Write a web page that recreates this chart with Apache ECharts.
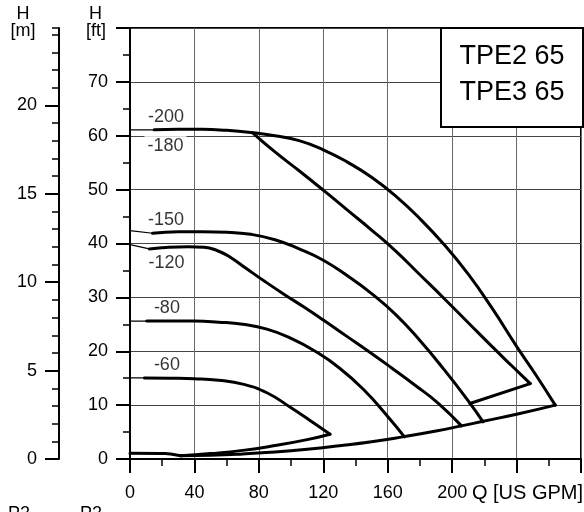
<!DOCTYPE html>
<html><head><meta charset="utf-8">
<script src="https://cdn.jsdelivr.net/npm/echarts@6/dist/echarts.min.js"></script>
<style>html,body{margin:0;padding:0;background:#fff}#c{width:584px;height:512px}</style>
</head><body><div id="c"></div>
<script>
// ---- data (Q in US GPM, H in ft) ----
const xLabelMax = 200;
const ftLabelMax = 70;
const mMajorTicks = [0, 5, 10, 15, 20];
const c200Thin = [[0, 61.1], [15, 61.1]];
const c200 = [[15, 61.1], [30, 61.2], [45, 61.2], [60, 61.0], [75, 60.6], [90, 60.0], [105, 59.1], [120, 57.4], [135, 55.1], [150, 52.3], [165, 48.8], [180, 44.6], [195, 39.8], [210, 34.3], [225, 27.9], [240, 20.9], [252, 15.6], [264, 10.0]];
const c180 = [[76, 60.6], [90, 57.0], [105, 53.5], [120, 49.9], [135, 46.2], [150, 42.5], [165, 38.6], [180, 34.2], [195, 29.8], [210, 25.3], [225, 20.8], [237, 17.3], [248.5, 14.0]];
const c180Join = [[248.5, 14.0], [211, 10.3]];
const c150Thin = [[0, 42.4], [14, 41.9]];
const c150 = [[14, 41.9], [30, 42.2], [45, 42.2], [60, 42.1], [75, 41.7], [90, 40.7], [105, 39.0], [120, 36.9], [135, 34.0], [150, 30.7], [165, 26.8], [180, 22.0], [195, 16.6], [210, 10.8], [219.2, 6.9]];
const c120Thin = [[0, 39.8], [12, 39.0]];
const c120 = [[12, 39.0], [24, 39.3], [36, 39.4], [46, 39.3], [54, 38.7], [62, 37.5], [72, 35.4], [84, 32.9], [96, 30.5], [108, 28.2], [120, 25.8], [134, 22.9], [148, 20.0], [162, 17.0], [177, 13.7], [191.6, 10.3], [205.8, 6.15]];
const c80Thin = [[0, 25.6], [10.4, 25.6]];
const c80 = [[10.4, 25.6], [25, 25.6], [40, 25.6], [55, 25.4], [70, 25.0], [85, 24.1], [100, 22.4], [115, 20.0], [130, 16.9], [145, 12.9], [160, 7.9], [170.4, 4.1]];
const c60Thin = [[0, 15.05], [9, 15.05]];
const c60 = [[9, 15.05], [25, 15.0], [40, 14.9], [55, 14.6], [70, 13.9], [85, 12.3], [100, 9.5], [112, 7.1], [124.2, 4.6]];
const c60Min = [[31.3, 0.6], [50, 1.0], [70, 1.6], [90, 2.5], [110, 3.6], [124.2, 4.6]];
const lowStart = [[0, 1.05], [22, 1.0], [31.3, 0.6]];
const envelope = [[31.3, 0.6], [50, 0.7], [70, 0.95], [90, 1.3], [110, 1.8], [130, 2.45], [150, 3.2], [170, 4.15], [190, 5.2], [205.8, 6.15], [219.2, 7.0], [240, 8.3], [264, 10.0]];
const curveLabels = [
  {text: '-200', q: 22.3, h: 63.5},
  {text: '-180', q: 22.0, h: 58.1, bg: true},
  {text: '-150', q: 22.3, h: 44.4},
  {text: '-120', q: 22.6, h: 36.4},
  {text: '-80', q: 22.9, h: 28.1},
  {text: '-60', q: 22.9, h: 17.5}
];
const FT_PER_M = 3.28084;
const FT_MAX = 80;

const FONT = 'Liberation Sans, Arial, Helvetica, sans-serif';
const FS = 18;
const chart = echarts.init(document.getElementById('c'));

function line(data, width, smooth) {
  return {type: 'line', data: data, showSymbol: false, symbol: 'none', smooth: smooth === undefined ? 0.5 : smooth,
    silent: true, z: 5,
    lineStyle: {color: '#000', width: width, cap: 'round', join: 'round'}};
}
const thick = 3, thin = 1.2;

const option = {
  animation: false,
  grid: {left: 130, right: 1, top: 28, height: 431, show: true, borderColor: '#000', borderWidth: 2, backgroundColor: 'transparent'},
  xAxis: {
    type: 'value', min: 0, max: 280, interval: 40,
    axisLine: {show: true, onZero: false, lineStyle: {color: '#000', width: 2}},
    axisTick: {show: true, length: 14, inside: false, lineStyle: {color: '#000', width: 2}},
    minorTick: {show: true, splitNumber: 2, length: 7, lineStyle: {color: '#000', width: 1.5}},
    axisLabel: {formatter: v => (v <= xLabelMax ? String(v) : ''), fontSize: FS, color: '#000', margin: 25, fontFamily: FONT},
    splitLine: {show: true, lineStyle: {color: '#6a6a6a', width: 1}}
  },
  yAxis: [
    {type: 'value', min: 0, max: FT_MAX, interval: 10, position: 'left',
      axisLine: {show: true, lineStyle: {color: '#000', width: 2}},
      axisTick: {show: true, length: 14, lineStyle: {color: '#000', width: 2}},
      minorTick: {show: true, splitNumber: 2, length: 7, lineStyle: {color: '#000', width: 1.5}},
      axisLabel: {fontSize: FS, color: '#000', margin: 22, fontFamily: FONT,
        formatter: v => (v <= ftLabelMax ? String(v) : '')},
      splitLine: {show: true, lineStyle: {color: '#444', width: 1}}},
    {type: 'value', min: 0, max: FT_MAX / FT_PER_M, interval: 5, position: 'left', offset: 71,
      axisLine: {show: true, lineStyle: {color: '#000', width: 2}},
      axisTick: {show: true, length: 14, customValues: mMajorTicks, lineStyle: {color: '#000', width: 2}},
      axisLabel: {fontSize: FS, color: '#000', margin: 22, fontFamily: FONT, customValues: mMajorTicks,
        formatter: v => (Math.abs(v % 5) < 1e-6 ? String(v) : '')},
      splitLine: {show: false}},
    {type: 'value', min: 0, max: FT_MAX / FT_PER_M, interval: 1, position: 'left', offset: 71,
      axisLine: {show: false},
      axisTick: {show: true, length: 7, lineStyle: {color: '#000', width: 1.5}},
      axisLabel: {show: false},
      splitLine: {show: false}}
  ],
  series: [
    line(c200Thin, thin, false), line(c200, thick),
    line(c180, thick), line(c180Join, thick, false),
    line(c150Thin, thin, false), line(c150, thick),
    line(c120Thin, thin, false), line(c120, thick),
    line(c80Thin, thin, false), line(c80, thick),
    line(c60Thin, thin, false), line(c60, thick),
    line(c60Min, thick), line(lowStart, thick, 0.2), line(envelope, thick),
    {type: 'scatter', symbolSize: 1, itemStyle: {color: 'transparent'}, silent: true, z: 10,
      data: curveLabels.map(l => ({value: [l.q, l.h], label: {
        show: true, position: 'inside', formatter: l.text, fontSize: FS, color: '#000', fontFamily: FONT,
        backgroundColor: l.bg ? '#fff' : 'transparent', padding: [1, 3]}}))}
  ],
  graphic: [
    {type: 'rect', z: 100, shape: {x: 441, y: 28, width: 142, height: 99}, style: {fill: '#fff', stroke: '#000', lineWidth: 2}},
    {type: 'text', z: 101, x: 512, y: 57, style: {text: 'TPE2 65', font: '27px ' + FONT, fill: '#000', textAlign: 'center', textVerticalAlign: 'middle'}},
    {type: 'text', z: 101, x: 512, y: 93, style: {text: 'TPE3 65', font: '27px ' + FONT, fill: '#000', textAlign: 'center', textVerticalAlign: 'middle'}},
    {type: 'text', x: 23, y: 14, style: {text: 'H', font: FS + 'px ' + FONT, fill: '#000', textAlign: 'center', textVerticalAlign: 'middle'}},
    {type: 'text', x: 23, y: 31, style: {text: '[m]', font: FS + 'px ' + FONT, fill: '#000', textAlign: 'center', textVerticalAlign: 'middle'}},
    {type: 'text', x: 95.5, y: 14, style: {text: 'H', font: FS + 'px ' + FONT, fill: '#000', textAlign: 'center', textVerticalAlign: 'middle'}},
    {type: 'text', x: 96, y: 31, style: {text: '[ft]', font: FS + 'px ' + FONT, fill: '#000', textAlign: 'center', textVerticalAlign: 'middle'}},
    {type: 'text', x: 583, y: 493, style: {text: 'Q [US GPM]', font: '20px ' + FONT, fill: '#000', textAlign: 'right', textVerticalAlign: 'middle'}},
    {type: 'text', x: 19, y: 514, style: {text: 'P2', font: FS + 'px ' + FONT, fill: '#000', textAlign: 'center', textVerticalAlign: 'middle'}},
    {type: 'text', x: 91, y: 514, style: {text: 'P2', font: FS + 'px ' + FONT, fill: '#000', textAlign: 'center', textVerticalAlign: 'middle'}}
  ]
};
chart.setOption(option);
</script>
</body></html>
